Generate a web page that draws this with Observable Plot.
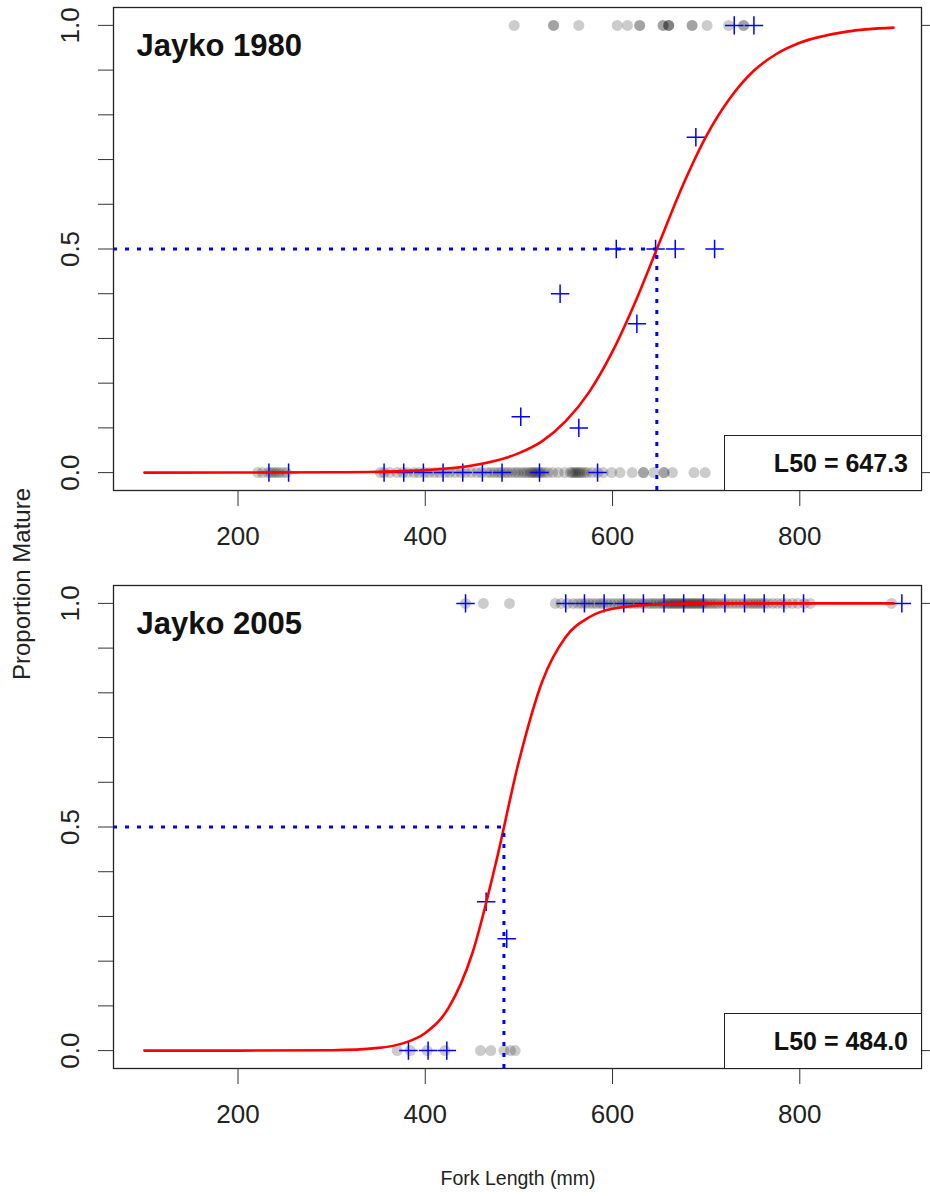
<!DOCTYPE html>
<html><head><meta charset="utf-8">
<script src="https://cdn.jsdelivr.net/npm/d3@7"></script>
<script src="https://cdn.jsdelivr.net/npm/@observablehq/plot@0.6"></script>
<style>
body{margin:0;background:#fff;font-family:"Liberation Sans",Arial,sans-serif;}
#wrap{position:relative;width:930px;height:1196px;overflow:hidden;background:#fff;}
.panel{position:absolute;left:0;}
.legend{position:absolute;border:1.3px solid #222;background:#fff;font-weight:bold;font-size:25px;color:#111;box-sizing:border-box;display:flex;align-items:center;justify-content:flex-end;padding-right:13px;}
.ylab{position:absolute;left:22px;top:584px;transform:translate(-50%,-50%) rotate(-90deg);font-size:24px;color:#222;white-space:nowrap;}
.xlab{position:absolute;left:518px;top:1178px;transform:translate(-50%,-50%);font-size:19.5px;color:#222;white-space:nowrap;}
</style></head><body><div id="wrap"></div>
<script>
// ---- shared axis data ----
const xTicks = [200, 400, 600, 800];
const yLabelValues = [0, 0.5, 1];
const yTickLabels = ["0.0", "0.5", "1.0"];
const yMinorTicks = [0, 0.1, 0.2, 0.3, 0.4, 0.5, 0.6, 0.7, 0.8, 0.9, 1.0];
const panelTitles = ["Jayko 1980", "Jayko 2005"];
const l50Values = [647.3, 484.0];

// ---- Jayko 1980 ----
const fl1980Mature = [495, 537, 537, 564, 605, 616, 629, 629, 654, 654, 660, 660, 660, 685, 685, 701, 724, 740, 740];
const fl1980Immature = [221, 226, 232, 235, 238, 241, 244, 248, 252,
  352, 356, 362, 370, 376, 381, 388, 393, 399, 404, 410, 415, 421, 426, 432, 438, 443, 449, 455, 460,
  466, 470, 474, 478, 481, 485, 488, 492, 496, 499, 503, 506, 509, 512, 514, 516, 518, 520, 522, 524,
  527, 531, 536, 542, 549, 555, 557, 559, 561, 563, 565, 567, 570, 573, 578, 584, 590, 599, 608, 621,
  633, 633, 644, 655, 655, 664, 687, 699];
const bin1980X = [233, 254, 356, 377, 398, 419, 440, 461, 482, 502, 522, 544, 564, 584, 604, 626, 646, 667, 689, 709, 730, 751];
const bin1980P = [0, 0, 0, 0, 0, 0, 0, 0, 0, 0.125, 0, 0.4, 0.1, 0, 0.5, 0.333, 0.5, 0.5, 0.75, 0.5, 1, 1];
const fit1980X = [100, 200, 300, 350, 400, 450, 500, 525, 550, 575, 600, 625, 650, 675, 700, 725, 750, 775, 800, 850, 900];
const fit1980P = [0.0000, 0.0001, 0.0007, 0.0019, 0.0055, 0.0157, 0.0435, 0.0705, 0.115, 0.180, 0.271, 0.385, 0.514, 0.642, 0.752, 0.836, 0.897, 0.936, 0.961, 0.986, 0.995];

// ---- Jayko 2005 ----
const fl2005Mature = [443, 462, 490, 539, 545, 552, 558, 563, 567, 571, 575, 579, 583, 587, 590, 594, 598, 602, 606,
  610, 613, 617, 620, 624, 627, 631, 634, 638, 641, 644, 647, 650, 653, 655, 658, 660, 662, 664, 666, 668,
  670, 672, 674, 676, 678, 680, 682, 684, 686, 688, 690, 692, 694, 696, 698, 701, 704, 707, 710, 713, 717,
  720, 724, 728, 732, 736, 740, 744, 747, 750, 753, 756, 759, 762, 766, 771, 776, 781, 786, 792, 798, 805, 811, 898];
const fl2005Immature = [370, 384, 402, 421, 459, 470, 484, 491, 496];
const bin2005X = [382, 403, 423, 443, 465, 487, 550, 570, 591, 612, 633, 655, 676, 697, 720, 741, 762, 783, 804, 909];
const bin2005P = [0, 0, 0, 1, 0.333, 0.25, 1, 1, 1, 1, 1, 1, 1, 1, 1, 1, 1, 1, 1, 1];
const fit2005X = [100, 200, 300, 350, 375, 400, 425, 450, 475, 500, 525, 550, 575, 600, 650, 700, 800, 900];
const fit2005P = [0.0000, 0.0000, 0.0009, 0.0061, 0.0156, 0.0395, 0.096, 0.216, 0.416, 0.647, 0.826, 0.925, 0.969, 0.988, 0.998, 1.0, 1.0, 1.0];

const panels = [
  {title: panelTitles[0], l50: l50Values[0], mature: fl1980Mature, immature: fl1980Immature, binX: bin1980X, binP: bin1980P, fitX: fit1980X, fitP: fit1980P, top: 0},
  {title: panelTitles[1], l50: l50Values[1], mature: fl2005Mature, immature: fl2005Immature, binX: bin2005X, binP: bin2005P, fitX: fit2005X, fitP: fit2005P, top: 578}
];

const xDomain = [67, 930];
const yDomain = [-0.04, 1.04];
const wrap = document.getElementById("wrap");

for (const p of panels) {
  const bins = p.binX.map((x, i) => ({x, p: p.binP[i]}));
  const fit = p.fitX.map((x, i) => ({x, p: p.fitP[i]}));
  const chart = Plot.plot({
    width: 930, height: 560,
    marginTop: 7, marginBottom: 70, marginLeft: 113, marginRight: 9,
    x: {domain: xDomain},
    y: {domain: yDomain},
    style: {fontFamily: "'Liberation Sans', Arial, sans-serif", color: "#222", background: "white", overflow: "visible"},
    marks: [
      Plot.dot(p.immature, {x: d => d, y: 0, r: 5.5, fill: "black", fillOpacity: 0.2}),
      Plot.dot(p.mature, {x: d => d, y: 1, r: 5.5, fill: "black", fillOpacity: 0.2}),
      Plot.dot(bins, {x: "x", y: "p", symbol: "plus", r: 6, stroke: "blue", strokeWidth: 1.5}),
      Plot.line(fit, {x: "x", y: "p", stroke: "red", strokeWidth: 2.6, curve: "monotone-x"}),
      Plot.ruleY([0.5], {x1: xDomain[0], x2: p.l50, stroke: "blue", strokeWidth: 3, strokeDasharray: "4,8"}),
      Plot.ruleX([p.l50], {y1: yDomain[0], y2: 0.5, stroke: "blue", strokeWidth: 3, strokeDasharray: "4,7"}),
      Plot.frame({stroke: "#222", strokeWidth: 1.3}),
      Plot.axisX({ticks: xTicks, tickSize: 16, tickPadding: 20, fontSize: 26, tickFormat: d => String(d), label: null, stroke: "#333"}),
      Plot.axisY({ticks: yMinorTicks, tickSize: 15, tickFormat: () => "", label: null, stroke: "#333"}),
      Plot.axisY({anchor: "right", ticks: [0, 1], tickSize: 10, tickFormat: () => "", label: null, stroke: "#333"}),
      Plot.text(yLabelValues, {y: d => d, text: (d, i) => yTickLabels[i], frameAnchor: "left", dx: -43, rotate: -90, textAnchor: "middle", lineAnchor: "middle", fontSize: 26, fill: "#222"}),
      Plot.text([p.title], {frameAnchor: "top-left", dx: 23, dy: 39, textAnchor: "start", lineAnchor: "middle", fontWeight: "bold", fontSize: 31, fill: "#111"})
    ]
  });
  chart.classList.add("panel");
  chart.style.top = p.top + "px";
  wrap.appendChild(chart);

  const lg = document.createElement("div");
  lg.className = "legend";
  lg.style.left = "724px";
  lg.style.top = (p.top + 435) + "px";
  lg.style.width = (921 - 724 + 1) + "px";
  lg.style.height = "56px";
  lg.textContent = "L50 = " + p.l50.toFixed(1);
  wrap.appendChild(lg);
}

const yl = document.createElement("div");
yl.className = "ylab";
yl.textContent = "Proportion Mature";
wrap.appendChild(yl);
const xl = document.createElement("div");
xl.className = "xlab";
xl.textContent = "Fork Length (mm)";
wrap.appendChild(xl);
</script>
</body></html>
